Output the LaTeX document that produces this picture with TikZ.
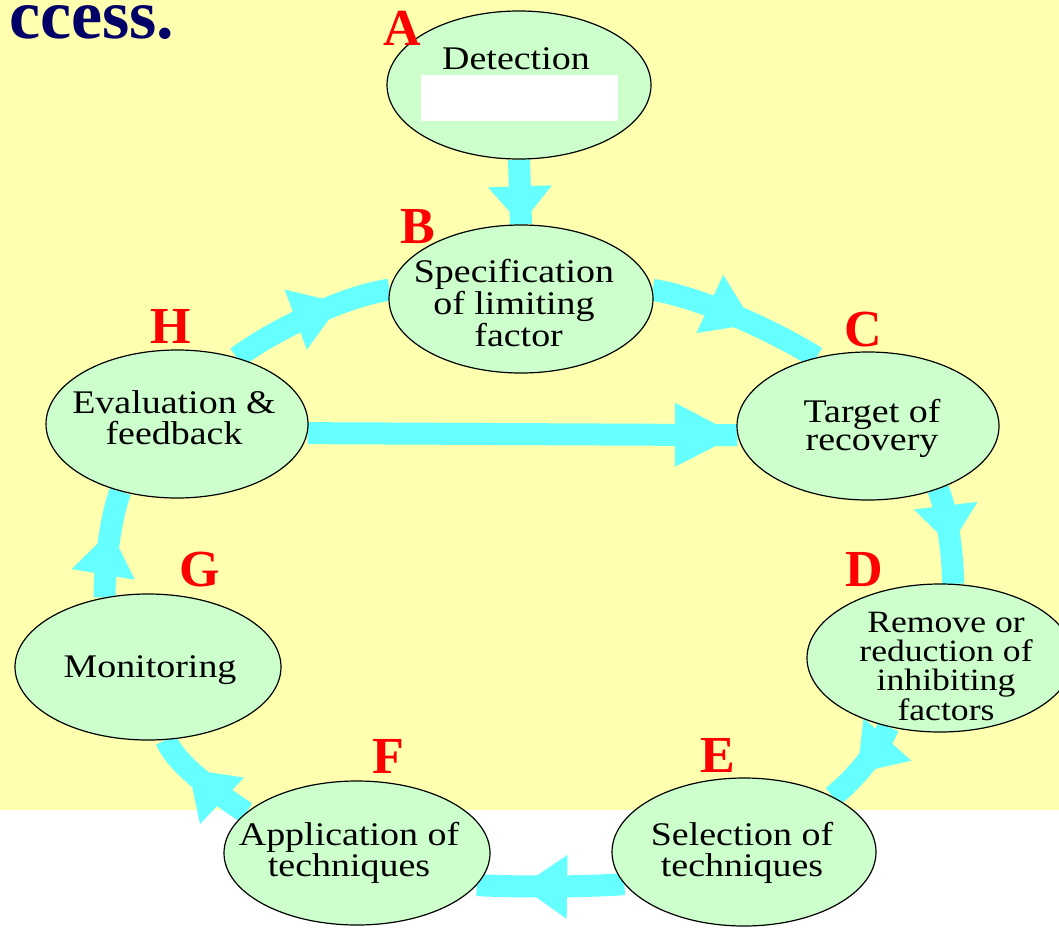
\documentclass[tikz,border=0pt]{standalone}
\usepackage{graphicx}
\usepackage{fontspec}
\setmainfont{Liberation Serif}
\usetikzlibrary{shapes.geometric,decorations.markings}
\definecolor{bgyellow}{RGB}{255,255,176}
\definecolor{ellfill}{RGB}{204,255,204}
\definecolor{bandcyan}{RGB}{102,255,255}
\definecolor{navy}{RGB}{0,0,102}
\pgfdeclarelayer{back}
\pgfdeclarelayer{bands}
\pgfsetlayers{back,bands,main}
\newcommand{\stx}[3][29pt]{\scalebox{1.15}[1]{\fontsize{#2}{#1}\selectfont\begin{tabular}[t]{@{}c@{}}#3\end{tabular}}}
\tikzset{
  stage/.style={ellipse, draw=black, line width=1.2pt, fill=ellfill, minimum width=264pt, minimum height=148pt, inner sep=0pt},
  stagetext/.style={anchor=base, inner sep=0pt, text=black},
  letter/.style={font=\fontsize{52}{52}\selectfont\bfseries, text=red, inner sep=0pt},
  band/.style={draw=bandcyan, line width=22pt},
  headpos/.style 2 args={postaction={decorate,decoration={markings,mark=at position #1 with {\fill[bandcyan] (0pt,0pt) -- (-#2,32pt) -- (-#2,-32pt) -- cycle;}}}},
}
\begin{document}
\begin{tikzpicture}[x=1pt,y=-1pt]
\clip (0,0) rectangle (1059,931);
\begin{pgfonlayer}{back}
  \fill[white] (0,0) rectangle (1059,931);
  \fill[bgyellow] (0,0) rectangle (1059,810);
\end{pgfonlayer}

% title fragment
\node[anchor=base west, inner sep=0pt, font=\fontsize{70}{70}\selectfont\bfseries, text=navy] (title) at (9,39) {ccess.};

% stages
\node[stage] (A) at (519,85) {};
\fill[white] (421,75) rectangle (618,121);
\node[stage] (B) at (521,299) {};
\node[stage, minimum width=262pt] (C) at (868,426) {};
\node[stage, minimum width=266pt] (D) at (940,658) {};
\node[stage] (E) at (744,852) {};
\node[stage, minimum width=266pt, minimum height=144pt] (F) at (357,853) {};
\node[stage, minimum width=266pt, minimum height=146pt] (G) at (148,667) {};
\node[stage, minimum width=262pt] (H) at (177,424) {};

% texts
\node[stagetext] (At) at (516,70) {\stx{33}{Detection}};
\node[stagetext] (Bt) at (514,282) {\stx[30pt]{33}{Specification\\of limiting\\\hspace*{8pt}factor}};
\node[stagetext] (Ct) at (872,422) {\stx[28pt]{33}{Target of\\recovery}};
\node[stagetext] (Dt) at (946,632) {\stx[25.5pt]{31}{Remove or\\reduction of\\inhibiting\\factors}};
\node[stagetext] (Et) at (742,845) {\stx[30pt]{33}{Selection of\\techniques}};
\node[stagetext] (Ft) at (349,845) {\stx[29pt]{33}{Application of\\techniques}};
\node[stagetext] (Gt) at (150,677) {\stx{33}{Monitoring}};
\node[stagetext] (Ht) at (174,413) {\stx[29pt]{33}{Evaluation \&\\feedback}};

% letters
\node[letter] (LA) at (402,28) {A};
\node[letter] (LB) at (418,227) {B};
\node[letter] (LC) at (863,330) {C};
\node[letter] (LD) at (864,570) {D};
\node[letter] (LE) at (718,755) {E};
\node[letter] (LF) at (388,756) {F};
\node[letter] (LG) at (200,570) {G};
\node[letter] (LH) at (171,326) {H};

% connectors
\begin{pgfonlayer}{bands}
  \draw[band, headpos={0.999}{38pt}] (A.south) -- (B.north);
  \draw[band, headpos={0.6}{48pt}] (B.4) .. controls +(50,8) and +(-40,-25) .. (C.127);
  \draw[band, headpos={0.6}{40pt}] (C.-42) .. controls +(10,25) and +(0,-25) .. (D.80);
  \draw[band, headpos={0.62}{45pt}] (D.233) .. controls +(-8,20) and +(25,-20) .. (E.32);
  \draw[band, headpos={0.7}{46pt}] (E.195) .. controls +(-40,3) and +(40,2) .. (F.-15);
  \draw[band, headpos={0.66}{46pt}] (F.160) .. controls +(-30,-20) and +(10,25) .. (G.-76);
  \draw[band, headpos={0.62}{44pt}] (G.122) .. controls +(0,-30) and +(-10,25) .. (H.230);
  \draw[band, headpos={0.7}{48pt}] (H.48) .. controls +(40,-30) and +(-40,5) .. (B.176);
  \draw[band, headpos={0.999}{62pt}] (H.-4) -- (C.184);
\end{pgfonlayer}
\end{tikzpicture}
\end{document}
